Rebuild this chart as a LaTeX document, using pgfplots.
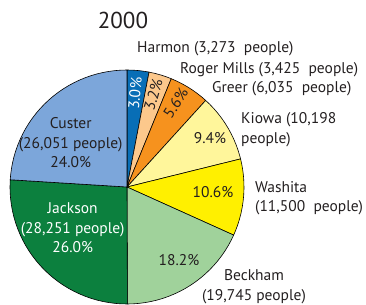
\documentclass[border=0pt]{standalone}
\usepackage{pgfplots}
\pgfplotsset{compat=1.18}
\usepgfplotslibrary{polar}
\usepackage{fontspec}
\setmainfont{PT Sans}
\definecolor{cHarmon}{RGB}{8,110,182}
\definecolor{cRoger}{RGB}{252,200,140}
\definecolor{cGreer}{RGB}{246,146,30}
\definecolor{cKiowa}{RGB}{255,246,155}
\definecolor{cWashita}{RGB}{255,240,0}
\definecolor{cBeckham}{RGB}{160,210,155}
\definecolor{cJackson}{RGB}{12,128,62}
\definecolor{cCuster}{RGB}{124,166,218}
\definecolor{txt}{RGB}{35,31,32}
\begin{document}
\begin{tikzpicture}[x=1bp,y=1bp]
\useasboundingbox (-127,-118) rectangle (239,187);
\begin{polaraxis}[at={(0,0)}, anchor=center, scale only axis, width=234bp, height=234bp,
  hide axis, xmin=0, xmax=360, ymin=0, ymax=1, clip=false]
\pgfplotsset{every axis plot/.append style={draw=black, line width=0.6pt, line join=round}}
% Harmon 3,273
\addplot[fill=cHarmon] coordinates {(0,0) (90,1) (87,1) (84,1) (81,1) (79.14,1) (0,0)};
% Roger Mills 3,425
\addplot[fill=cRoger] coordinates {(0,0) (79.14,1) (76,1) (73,1) (70,1) (67.77,1) (0,0)};
% Greer 6,035
\addplot[fill=cGreer] coordinates {(0,0) (67.77,1) (65,1) (62,1) (59,1) (56,1) (53,1) (50,1) (47.74,1) (0,0)};
% Kiowa 10,198
\addplot[fill=cKiowa] coordinates {(0,0) (47.74,1) (45,1) (42,1) (39,1) (36,1) (33,1) (30,1) (27,1) (24,1) (21,1) (18,1) (15,1) (13.90,1) (0,0)};
% Washita 11,500
\addplot[fill=cWashita] coordinates {(0,0) (13.90,1) (11,1) (8,1) (5,1) (2,1) (-1,1) (-4,1) (-7,1) (-10,1) (-13,1) (-16,1) (-19,1) (-22,1) (-24.27,1) (0,0)};
% Beckham 19,745
\addplot[fill=cBeckham] coordinates {(0,0) (335.73,1) (333,1) (330,1) (327,1) (324,1) (321,1) (318,1) (315,1) (312,1) (309,1) (306,1) (303,1) (300,1) (297,1) (294,1) (291,1) (288,1) (285,1) (282,1) (279,1) (276,1) (273,1) (270.21,1) (0,0)};
% Jackson 28,251
\addplot[fill=cJackson] coordinates {(0,0) (270.21,1) (267,1) (264,1) (261,1) (258,1) (255,1) (252,1) (249,1) (246,1) (243,1) (240,1) (237,1) (234,1) (231,1) (228,1) (225,1) (222,1) (219,1) (216,1) (213,1) (210,1) (207,1) (204,1) (201,1) (198,1) (195,1) (192,1) (189,1) (186,1) (183,1) (180,1) (176.45,1) (0,0)};
% Custer 26,051
\addplot[fill=cCuster] coordinates {(0,0) (176.45,1) (174,1) (171,1) (168,1) (165,1) (162,1) (159,1) (156,1) (153,1) (150,1) (147,1) (144,1) (141,1) (138,1) (135,1) (132,1) (129,1) (126,1) (123,1) (120,1) (117,1) (114,1) (111,1) (108,1) (105,1) (102,1) (99,1) (96,1) (93,1) (90,1) (0,0)};
\end{polaraxis}
\begin{scope}[every node/.style={text=txt, font=\fontsize{15.5bp}{19.5bp}\selectfont, inner sep=0pt}]
\node[font=\fontsize{23bp}{26bp}\selectfont] at (-4,167) {2000};
\node[anchor=west] at (10,138) {Harmon (3,273~ people)};
\node[anchor=west] at (53,117) {Roger Mills (3,425~ people)};
\node[anchor=west] at (85,98) {Greer (6,035~ people)};
\node[anchor=west, align=left] at (114,57.3) {Kiowa (10,198\\people)};
\node[anchor=west, align=left] at (128,-11.3) {Washita\\(11,500~ people)};
\node[align=center] at (127,-99.7) {Beckham\\(19,745 people)};
\node[align=center] at (-56.3,44) {Custer\\(26,051 people)\\24.0\%};
\node[align=center, text=white] at (-54.3,-41) {Jackson\\(28,251 people)\\26.0\%};
\node at (52,-73) {18.2\%};
\node at (86,-4.7) {10.6\%};
\node at (83,49.3) {9.4\%};
\node[rotate=57] at (48.7,84.3) {5.6\%};
\node[rotate=73.5] at (26.3,92) {3.2\%};
\node[rotate=84.6, text=white] at (8,93.7) {3.0\%};
\end{scope}
\end{tikzpicture}
\end{document}
